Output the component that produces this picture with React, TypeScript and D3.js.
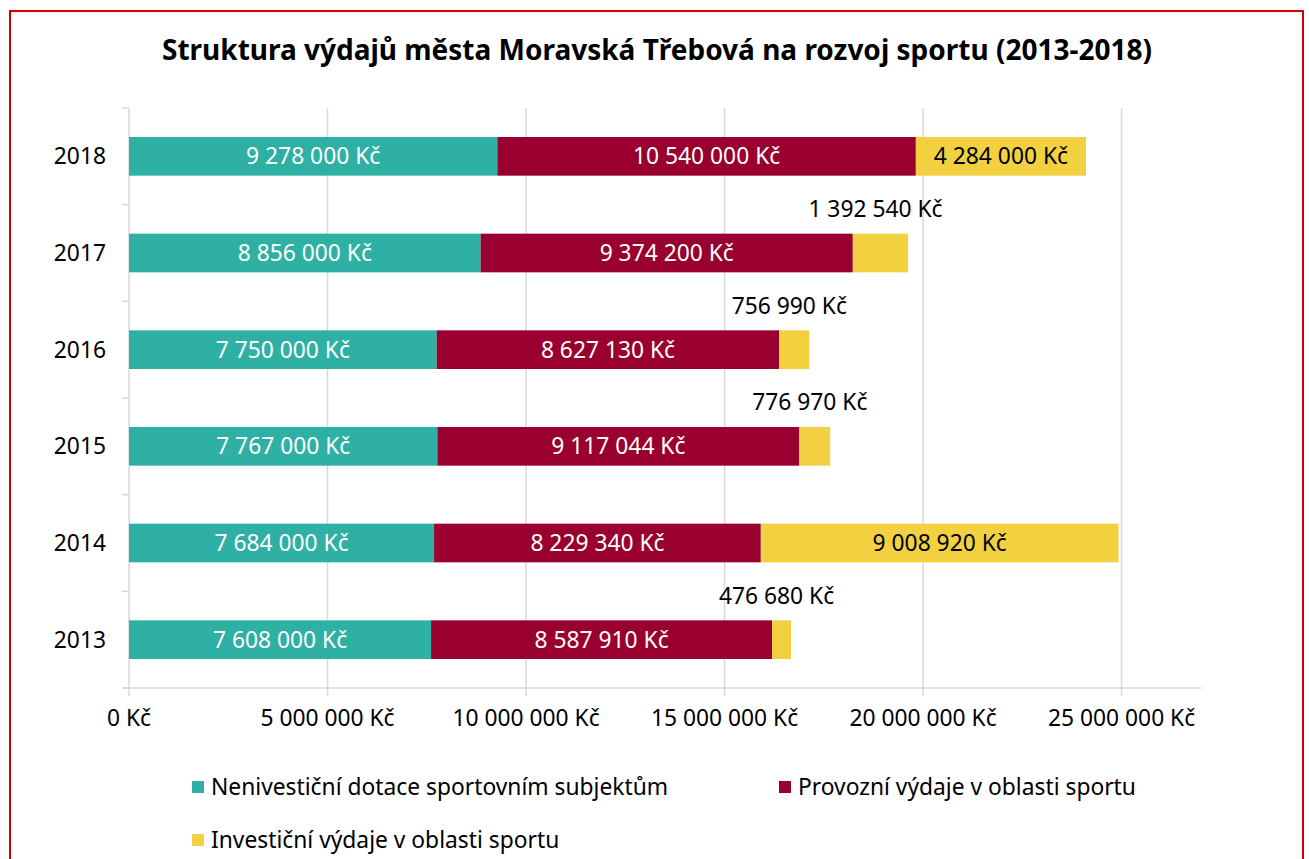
import React from "react";
import * as d3 from "d3";

const years = ["2013", "2014", "2015", "2016", "2017", "2018"];
const seriesNames = [
  "Nenivestiční dotace sportovním subjektům",
  "Provozní výdaje v oblasti sportu",
  "Investiční výdaje v oblasti sportu",
];
const neinvestDotace = [7608000, 7684000, 7767000, 7750000, 8856000, 9278000];
const provozni = [8587910, 8229340, 9117044, 8627130, 9374200, 10540000];
const investicni = [476680, 9008920, 776970, 756990, 1392540, 4284000];
const xTicks = [0, 5000000, 10000000, 15000000, 20000000, 25000000];
const colors = ["#2EB0A4", "#990030", "#F2D040"];
const labelColors = ["#ffffff", "#ffffff", "#000000"];

const W = 1309;
const H = 859;
const FONT = "'Noto Sans', 'DejaVu Sans', sans-serif";

const fmt = (v: number) =>
  String(Math.round(v)).replace(/\B(?=(\d{3})+(?!\d))/g, " ") + " Kč";

export default function App() {
  const left = 129;
  const right = 1201;
  const top = 108;
  const bottom = 688;
  const x = d3.scaleLinear().domain([0, 27000000]).range([left, right]);
  const y = d3
    .scaleBand<string>()
    .domain([...years].reverse())
    .range([top, bottom])
    .padding(0);
  const barH = y.bandwidth() * 0.4;

  const table = years.map((yr, i) => ({
    year: yr,
    v0: neinvestDotace[i],
    v1: provozni[i],
    v2: investicni[i],
  }));
  const stack = d3.stack<any>().keys(["v0", "v1", "v2"]);
  const stacked = stack(table);

  const boundaries = d3.range(years.length + 1).map((i) => top + i * y.step());
  const fs = 22.8;

  return (
    <svg
      width={W}
      height={H}
      style={{ position: "absolute", left: 0, top: 0, background: "#fff" }}
      fontFamily={FONT}
    >
      <rect x={0} y={0} width={W} height={H} fill="#fff" />
      <rect x={10} y={11} width={1293} height={H} fill="none" stroke="#d40000" strokeWidth={2} />
      <text
        x={657}
        y={50}
        dy="0.35em"
        textAnchor="middle"
        fontSize={28}
        fontWeight="bold"
        fill="#000"
      >
        Struktura výdajů města Moravská Třebová na rozvoj sportu (2013-2018)
      </text>

      {/* vertical gridlines */}
      {xTicks.map((t) => (
        <line
          key={"g" + t}
          x1={x(t)}
          x2={x(t)}
          y1={top}
          y2={bottom + 8}
          stroke="#d9d9d9"
          strokeWidth={1.5}
        />
      ))}
      {/* left axis tick marks */}
      {boundaries.map((b, i) => (
        <line key={"lt" + i} x1={left - 7} x2={left} y1={b} y2={b} stroke="#d9d9d9" strokeWidth={1.5} />
      ))}
      {/* bottom axis line */}
      <line x1={left - 7} x2={right} y1={bottom} y2={bottom} stroke="#d9d9d9" strokeWidth={1.5} />

      {/* bars */}
      {stacked.map((s, si) =>
        s.map((d, i) => {
          const yr = table[i].year;
          const x0 = x(d[0]);
          const x1 = x(d[1]);
          const yy = (y(yr) as number) + (y.bandwidth() - barH) / 2;
          return (
            <rect
              key={si + "-" + i}
              x={x0}
              y={yy}
              width={x1 - x0}
              height={barH}
              fill={colors[si]}
            />
          );
        })
      )}

      {/* data labels */}
      {stacked.map((s, si) =>
        s.map((d, i) => {
          const yr = table[i].year;
          const v = d[1] - d[0];
          const x0 = x(d[0]);
          const x1 = x(d[1]);
          const cy = (y(yr) as number) + y.bandwidth() / 2;
          const inside = x1 - x0 > 140;
          return (
            <text
              key={"l" + si + "-" + i}
              x={inside ? (x0 + x1) / 2 : (x0 + x1) / 2 - 5}
              y={inside ? cy : cy - 44}
              dy="0.35em"
              textAnchor="middle"
              fontSize={fs}
              fill={inside ? labelColors[si] : "#000"}
            >
              {fmt(v)}
            </text>
          );
        })
      )}

      {/* category labels */}
      {years.map((yr) => (
        <text
          key={"c" + yr}
          x={106}
          y={(y(yr) as number) + y.bandwidth() / 2}
          dy="0.35em"
          textAnchor="end"
          fontSize={fs}
          fill="#000"
        >
          {yr}
        </text>
      ))}

      {/* x tick labels */}
      {xTicks.map((t) => (
        <text
          key={"xt" + t}
          x={x(t)}
          y={718}
          dy="0.35em"
          textAnchor="middle"
          fontSize={fs}
          fill="#000"
        >
          {fmt(t)}
        </text>
      ))}

      {/* legend */}
      {seriesNames.map((name, i) => {
        const lx = i === 1 ? 779 : 192;
        const ly = i === 2 ? 840 : 787;
        return (
          <g key={"lg" + i}>
            <rect x={lx} y={ly - 6} width={12} height={12} fill={colors[i]} />
            <text x={lx + 19} y={ly} dy="0.35em" fontSize={fs} fill="#000">
              {name}
            </text>
          </g>
        );
      })}
    </svg>
  );
}
